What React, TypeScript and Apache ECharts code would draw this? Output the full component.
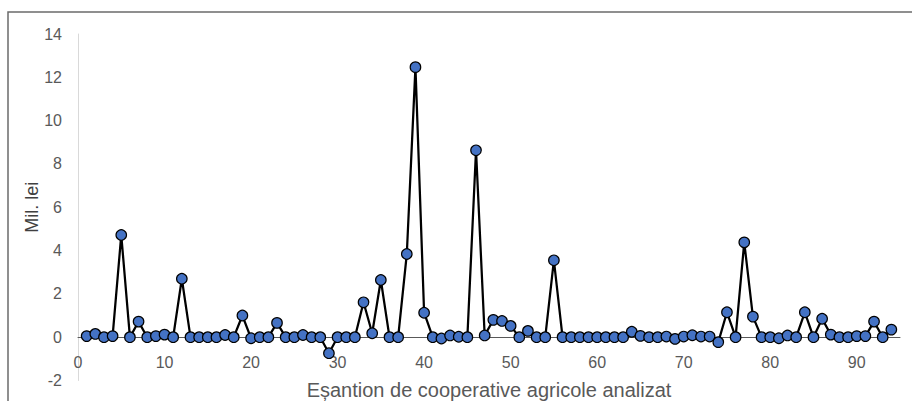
import React, { useEffect, useRef } from "react";
import * as echarts from "echarts";

// Sample values (Mil. lei) for cooperatives 1..94
const values: number[] = [
  0.05, 0.15, 0, 0.05, 4.72, 0, 0.72, 0, 0.05, 0.12,
  0, 2.7, 0, 0, 0, 0, 0.1, 0, 1.0, -0.05,
  0, 0, 0.66, 0, 0, 0.1, 0, 0, -0.74, 0,
  0, 0, 1.61, 0.18, 2.64, 0, 0, 3.84, 12.47, 1.13,
  0, -0.06, 0.08, 0.02, 0, 8.63, 0.08, 0.8, 0.75, 0.52,
  0, 0.29, 0, 0, 3.55, 0, 0, 0, 0, 0,
  0, 0, 0, 0.25, 0.06, 0, 0, 0.03, -0.08, 0.03,
  0.09, 0.03, 0.03, -0.23, 1.15, 0, 4.38, 0.95, 0, 0,
  -0.05, 0.08, 0, 1.15, 0, 0.85, 0.12, 0, 0, 0.05,
  0.05, 0.72, 0, 0.35,
];

const xAxisTitle = "Eșantion de cooperative agricole analizat";
const yAxisTitle = "Mil. lei";

const FONT = "'Liberation Sans', Arial, sans-serif";

export default function App() {
  const ref = useRef<HTMLDivElement | null>(null);

  useEffect(() => {
    if (!ref.current) return;
    const chart = echarts.init(ref.current, undefined, { renderer: "svg" });
    const data = values.map((v, i) => [i + 1, v]);
    chart.setOption({
      animation: false,
      backgroundColor: "#ffffff",
      textStyle: { fontFamily: FONT },
      graphic: [
        {
          type: "rect",
          shape: { x: 8, y: 12, width: 940, height: 440 },
          style: { fill: "none", stroke: "#6b6b6b", lineWidth: 1.5 },
          silent: true,
        },
      ],
      grid: {
        left: 78,
        right: 12,
        top: 34,
        bottom: 20.5,
        containLabel: false,
        outerBoundsMode: "none",
      },
      xAxis: {
        type: "value",
        min: 0,
        max: 95,
        interval: 10,
        name: xAxisTitle,
        nameLocation: "middle",
        nameGap: 9,
        nameTextStyle: {
          fontSize: 20,
          color: "#595959",
          verticalAlign: "middle",
          fontFamily: FONT,
        },
        axisLine: { show: true, onZero: true, lineStyle: { color: "#595959", width: 1 } },
        axisTick: { show: false },
        splitLine: { show: false },
        axisLabel: {
          margin: -26,
          fontSize: 16,
          color: "#595959",
          fontFamily: FONT,
          formatter: (v: number) => (v % 10 === 0 ? String(v) : ""),
        },
      },
      yAxis: {
        type: "value",
        min: -2,
        max: 14,
        interval: 2,
        name: yAxisTitle,
        nameLocation: "middle",
        nameRotate: 90,
        nameGap: 46,
        nameMoveOverlap: false,
        nameTextStyle: {
          fontSize: 18,
          color: "#404040",
          verticalAlign: "middle",
          fontFamily: FONT,
        },
        axisLine: { show: true, onZero: false, lineStyle: { color: "#d9d9d9", width: 1 } },
        axisTick: { show: false },
        splitLine: { show: false },
        axisLabel: {
          margin: 16,
          fontSize: 16,
          color: "#595959",
          fontFamily: FONT,
        },
      },
      series: [
        {
          type: "line",
          data,
          symbol: "circle",
          symbolSize: 10.5,
          showAllSymbol: true,
          lineStyle: { color: "#000000", width: 2.25 },
          itemStyle: { color: "#4472C4", borderColor: "#000000", borderWidth: 1.2 },
          emphasis: { disabled: true },
        },
      ],
    });
    return () => chart.dispose();
  }, []);

  return (
    <div
      ref={ref}
      style={{ position: "fixed", left: 0, top: 0, width: 912, height: 401, background: "#fff" }}
    />
  );
}
